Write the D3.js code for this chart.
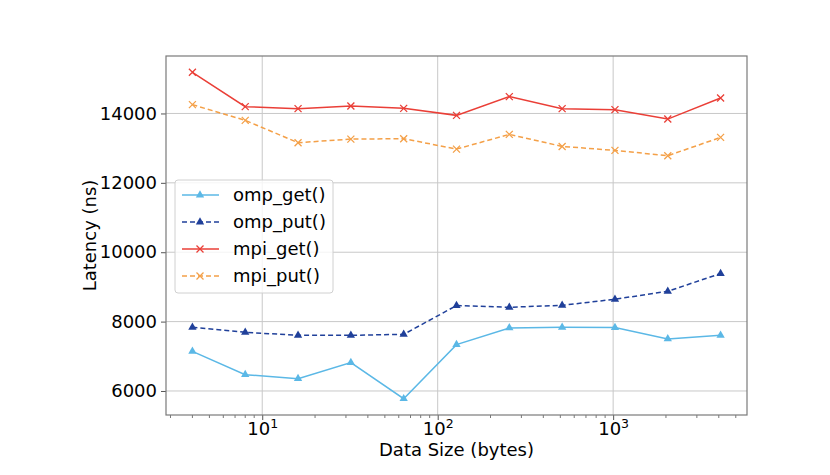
<!DOCTYPE html>
<html>
<head>
<meta charset="utf-8">
<script src="https://cdn.jsdelivr.net/npm/d3@7"></script>
<style>
  body { margin: 0; background: #fff; }
  svg text { font-family: "DejaVu Sans", sans-serif; fill: #000; }
</style>
</head>
<body>
<div id="chart"></div>
<script>
// data sizes in bytes (log axis)
const sizes = [4, 8, 16, 32, 64, 128, 256, 512, 1024, 2048, 4096];

const ompGet = [7143, 6470, 6355, 6817, 5778, 7336, 7818, 7835, 7827, 7501, 7605];
const ompPut = [7835, 7691, 7605, 7605, 7633, 8462, 8413, 8470, 8644, 8874, 9385];
const mpiGet = [15186, 14196, 14139, 14214, 14147, 13945, 14485, 14139, 14110, 13838, 14444];
const mpiPut = [14254, 13801, 13157, 13261, 13273, 12973, 13397, 13050, 12935, 12782, 13310];

const seriesNames = ["omp_get()", "omp_put()", "mpi_get()", "mpi_put()"];
const yTicks = [6000, 8000, 10000, 12000, 14000];
const xTicks = [10, 100, 1000];

const series = [
    {name: seriesNames[0], values: ompGet, color: "#5bb8e6", dash: null, marker: "tri"},
    {name: seriesNames[1], values: ompPut, color: "#20409a", dash: "5,3", marker: "tri"},
    {name: seriesNames[2], values: mpiGet, color: "#ea3f37", dash: null, marker: "x"},
    {name: seriesNames[3], values: mpiPut, color: "#f4a048", dash: "5,3", marker: "x"}
];

const W = 830, H = 475;
const margin = {top: 56, right: 83, bottom: 60, left: 166};
const width = W - margin.left - margin.right;
const height = H - margin.top - margin.bottom;
const fs = "18px";

const svg = d3.select("#chart").append("svg")
    .attr("width", W).attr("height", H);

const g = svg.append("g")
    .attr("transform", `translate(${margin.left},${margin.top})`);

// matplotlib style 5% margins
const lx0 = Math.log10(d3.min(sizes)), lx1 = Math.log10(d3.max(sizes));
const xpad = (lx1 - lx0) * 0.05;
const x = d3.scaleLog()
    .domain([Math.pow(10, lx0 - xpad), Math.pow(10, lx1 + xpad)])
    .range([0, width]);

const allY = [].concat(ompGet, ompPut, mpiGet, mpiPut);
const ymin = d3.min(allY), ymax = d3.max(allY);
const ypad = (ymax - ymin) * 0.05;
const y = d3.scaleLinear()
    .domain([ymin - ypad, ymax + ypad])
    .range([height, 0]);

// grid
g.selectAll("line.gx").data(xTicks).enter().append("line")
    .attr("x1", d => x(d)).attr("x2", d => x(d))
    .attr("y1", 0).attr("y2", height)
    .attr("stroke", "#c8c8c8").attr("stroke-width", 1);
g.selectAll("line.gy").data(yTicks).enter().append("line")
    .attr("x1", 0).attr("x2", width)
    .attr("y1", d => y(d)).attr("y2", d => y(d))
    .attr("stroke", "#c8c8c8").attr("stroke-width", 1);

// axes
const yAxis = d3.axisLeft(y).tickValues(yTicks).tickSize(5).tickPadding(4).tickFormat(d3.format("d"));
const yG = g.append("g").call(yAxis);
yG.select(".domain").remove();
yG.selectAll("text").style("font-size", fs);
yG.selectAll("line").attr("stroke", "#555");

const minor = [];
for (let e = 0; e < 4; e++) {
    for (let m = 2; m < 10; m++) {
        const v = m * Math.pow(10, e);
        if (v >= x.domain()[0] && v <= x.domain()[1]) minor.push(v);
    }
}
g.selectAll("line.minor").data(minor).enter().append("line")
    .attr("x1", d => x(d)).attr("x2", d => x(d))
    .attr("y1", height).attr("y2", height + 3)
    .attr("stroke", "#555").attr("stroke-width", 0.8);

const xAxis = d3.axisBottom(x).tickValues(xTicks).tickSize(5).tickFormat("");
const xG = g.append("g").attr("transform", `translate(0,${height})`).call(xAxis);
xG.select(".domain").remove();
xG.selectAll("g.tick text").remove();
xG.selectAll("line").attr("stroke", "#555");
xG.selectAll("g.tick").append("text")
    .attr("y", 20).attr("text-anchor", "middle")
    .style("font-size", fs)
    .each(function(d) {
        const t = d3.select(this);
        t.append("tspan").text("10");
        t.append("tspan").attr("dy", -7).style("font-size", "12.5px").text(Math.round(Math.log10(d)));
    });

// frame
g.append("rect").attr("width", width).attr("height", height)
    .attr("fill", "none").attr("stroke", "#7a7a7a").attr("stroke-width", 1.2);

// lines
const line = d3.line()
    .x((d, i) => x(sizes[i]))
    .y(d => y(d));

function drawMarker(sel, type, color) {
    if (type === "tri") {
        sel.append("path")
            .attr("d", d3.symbol().type(d3.symbolTriangle).size(30)())
            .attr("fill", color);
    } else {
        sel.append("path")
            .attr("d", "M-3.5,-3.5L3.5,3.5M-3.5,3.5L3.5,-3.5")
            .attr("stroke", color).attr("stroke-width", 1.3).attr("fill", "none");
    }
}

series.forEach(s => {
    g.append("path")
        .datum(s.values)
        .attr("d", line)
        .attr("fill", "none")
        .attr("stroke", s.color)
        .attr("stroke-width", 1.5)
        .attr("stroke-dasharray", s.dash);
    g.selectAll(null).data(s.values).enter().append("g")
        .attr("transform", (d, i) => `translate(${x(sizes[i])},${y(d)})`)
        .each(function() { drawMarker(d3.select(this), s.marker, s.color); });
});

// axis labels
svg.append("text")
    .attr("x", margin.left + width / 2).attr("y", 456)
    .attr("text-anchor", "middle").style("font-size", fs)
    .text("Data Size (bytes)");
svg.append("text")
    .attr("transform", `translate(96,${margin.top + height / 2}) rotate(-90)`)
    .attr("text-anchor", "middle").style("font-size", fs)
    .text("Latency (ns)");

// legend
const leg = svg.append("g").attr("transform", "translate(175,180)");
leg.append("rect")
    .attr("width", 158).attr("height", 113).attr("rx", 3)
    .attr("fill", "#fff").attr("fill-opacity", 0.8)
    .attr("stroke", "#d0d0d0");
series.forEach((s, i) => {
    const row = leg.append("g").attr("transform", `translate(0,${15 + i * 27})`);
    row.append("line")
        .attr("x1", 7).attr("x2", 44)
        .attr("stroke", s.color).attr("stroke-width", 1.5)
        .attr("stroke-dasharray", s.dash);
    const m = row.append("g").attr("transform", "translate(25,0)");
    drawMarker(m, s.marker, s.color);
    row.append("text")
        .attr("x", 58).attr("dy", "0.35em")
        .style("font-size", fs)
        .text(s.name);
});
</script>
</body>
</html>
